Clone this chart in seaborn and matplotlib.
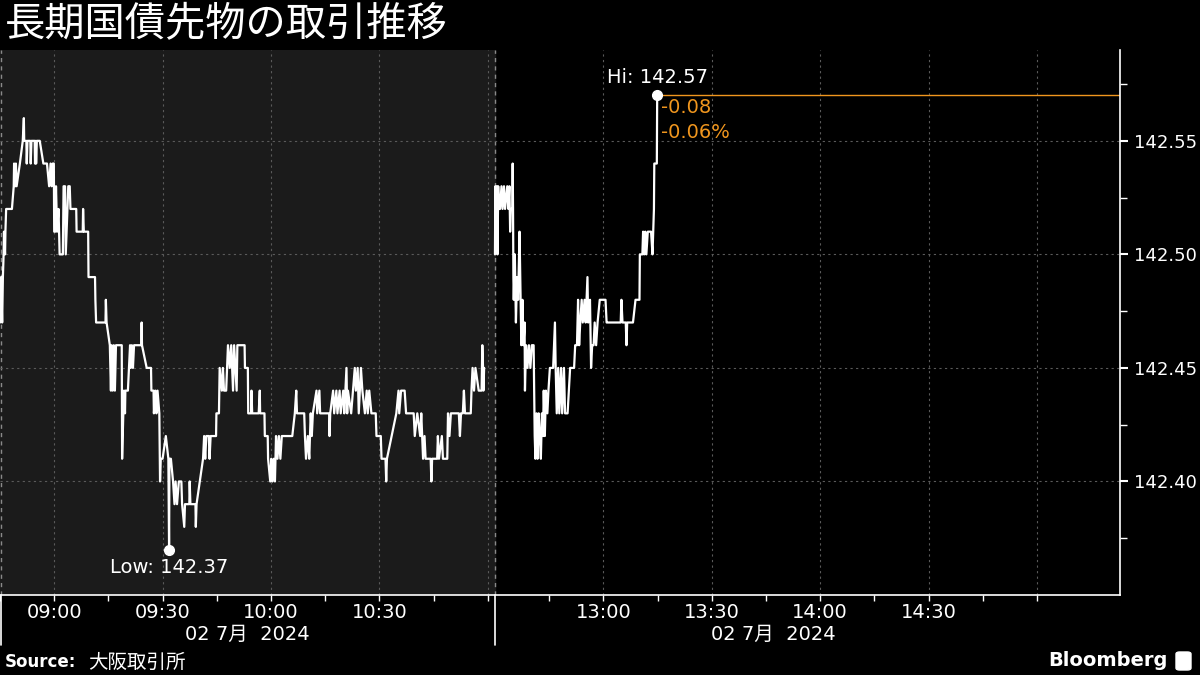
import numpy as np
import pandas as pd
import matplotlib
matplotlib.use("Agg")
import matplotlib.pyplot as plt
import matplotlib.transforms as mtransforms
from matplotlib.lines import Line2D
from matplotlib.patches import FancyBboxPatch
import seaborn as sns

# morning session: minutes after 08:45, price
am_minutes = [0.0, 0.3, 0.6, 0.8, 1.0, 1.1, 1.4, 1.5, 1.7, 3.3, 3.8, 3.9, 4.2, 4.4, 4.6, 5.5, 6.3, 6.6, 6.7, 7.3,
              7.4, 7.6, 8.4, 8.5, 8.7, 9.6, 9.7, 9.9, 10.0, 10.2, 11.0, 12.0, 13.0, 13.6, 14.0, 14.3, 14.6, 14.9, 15.0, 15.3,
              15.5, 15.8, 16.2, 16.5, 17.4, 17.6, 18.0, 18.2, 18.9, 19.3, 19.5, 21.1, 21.2, 22.9, 23.0, 23.2, 24.4, 24.5, 26.3, 26.4,
              26.6, 29.2, 29.3, 29.5, 30.4, 30.7, 30.9, 31.2, 31.5, 31.8, 32.1, 33.7, 33.8, 34.3, 34.6, 34.7, 35.4, 36.0, 36.2, 36.5,
              36.8, 37.1, 39.1, 39.2, 39.3, 40.6, 41.8, 41.9, 42.5, 42.6, 43.0, 43.3, 43.6, 44.1, 44.3, 44.5, 45.0, 45.9, 46.6, 46.8,
              46.9, 47.3, 47.9, 48.3, 48.6, 49.0, 49.5, 50.2, 50.4, 51.0, 51.2, 52.4, 52.5, 52.7, 54.1, 54.2, 54.4, 56.2, 56.5, 56.8,
              57.1, 57.8, 58.0, 58.3, 59.8, 59.9, 60.6, 60.8, 61.4, 61.7, 62.0, 62.6, 63.1, 63.6, 64.0, 64.5, 64.8, 65.5, 65.7, 67.7,
              67.8, 68.6, 68.7, 69.5, 69.6, 69.8, 71.6, 71.9, 72.0, 73.2, 73.3, 74.1, 74.2, 74.8, 75.1, 75.4, 75.8, 76.1, 76.4, 76.8,
              77.2, 77.6, 78.0, 80.9, 81.6, 82.0, 82.2, 84.2, 84.4, 84.7, 85.2, 85.6, 86.0, 86.3, 86.6, 87.6, 87.8, 88.4, 88.6, 91.1,
              91.2, 91.4, 92.2, 92.5, 93.1, 93.4, 94.0, 94.3, 95.0, 95.3, 95.9, 96.1, 96.3, 97.2, 98.2, 98.5, 99.0, 99.3, 99.9, 100.3,
              101.0, 101.5, 101.8, 102.2, 102.8, 104.0, 104.2, 105.4, 105.6, 106.7, 106.9, 107.1, 109.7, 110.3, 110.5, 111.0, 112.0, 112.4, 114.5, 114.8,
              115.5, 116.3, 116.6, 117.1, 117.5, 117.8, 119.2, 119.4, 119.6, 121.0, 121.2, 121.5, 122.3, 122.6, 123.8, 124.0, 124.4, 124.8, 127.0, 127.3,
              127.6, 128.1, 128.4, 128.7, 130.3, 130.5, 130.8, 131.2, 131.6, 132.5, 133.3, 133.5, 133.7, 133.8, 134.0]
am_prices = [142.47, 142.49, 142.47, 142.49, 142.50, 142.51, 142.50, 142.51, 142.52, 142.52, 142.53, 142.54, 142.53, 142.54, 142.53, 142.54, 142.55, 142.56, 142.55, 142.55,
             142.54, 142.55, 142.55, 142.54, 142.55, 142.55, 142.54, 142.55, 142.54, 142.55, 142.55, 142.54, 142.54, 142.53, 142.54, 142.53, 142.54, 142.54, 142.51, 142.51,
             142.53, 142.51, 142.52, 142.50, 142.50, 142.53, 142.53, 142.50, 142.53, 142.53, 142.52, 142.52, 142.51, 142.51, 142.52, 142.51, 142.51, 142.49, 142.49, 142.48,
             142.47, 142.47, 142.48, 142.47, 142.46, 142.44, 142.46, 142.44, 142.46, 142.44, 142.46, 142.46, 142.41, 142.44, 142.43, 142.44, 142.44, 142.46, 142.45, 142.46,
             142.45, 142.46, 142.46, 142.47, 142.46, 142.45, 142.45, 142.44, 142.44, 142.43, 142.44, 142.43, 142.44, 142.43, 142.40, 142.41, 142.41, 142.42, 142.41, 142.37,
             142.41, 142.41, 142.40, 142.39, 142.40, 142.39, 142.40, 142.40, 142.39, 142.38, 142.39, 142.39, 142.40, 142.39, 142.39, 142.38, 142.39, 142.41, 142.42, 142.41,
             142.42, 142.42, 142.41, 142.42, 142.42, 142.43, 142.43, 142.45, 142.44, 142.45, 142.44, 142.44, 142.46, 142.45, 142.46, 142.44, 142.46, 142.44, 142.46, 142.46,
             142.45, 142.45, 142.43, 142.43, 142.44, 142.43, 142.43, 142.44, 142.43, 142.43, 142.42, 142.42, 142.41, 142.40, 142.41, 142.40, 142.41, 142.40, 142.42, 142.41,
             142.42, 142.41, 142.42, 142.42, 142.43, 142.44, 142.43, 142.43, 142.42, 142.41, 142.42, 142.41, 142.43, 142.42, 142.43, 142.44, 142.43, 142.44, 142.43, 142.43,
             142.42, 142.43, 142.44, 142.43, 142.44, 142.43, 142.44, 142.43, 142.44, 142.43, 142.45, 142.43, 142.44, 142.43, 142.45, 142.44, 142.45, 142.43, 142.45, 142.44,
             142.43, 142.44, 142.43, 142.44, 142.43, 142.43, 142.42, 142.42, 142.41, 142.41, 142.40, 142.41, 142.43, 142.44, 142.43, 142.44, 142.44, 142.43, 142.43, 142.42,
             142.43, 142.42, 142.43, 142.41, 142.42, 142.41, 142.41, 142.40, 142.41, 142.41, 142.42, 142.41, 142.42, 142.41, 142.41, 142.43, 142.42, 142.43, 142.43, 142.42,
             142.43, 142.43, 142.44, 142.43, 142.43, 142.44, 142.45, 142.44, 142.45, 142.44, 142.44, 142.46, 142.45, 142.44, 142.45]

# afternoon session: minutes after 12:30, price
pm_minutes = [0.0, 0.1, 0.3, 0.5, 0.7, 0.9, 1.1, 1.4, 1.8, 2.1, 2.5, 2.8, 3.4, 3.7, 4.0, 4.2, 4.4, 4.8, 4.9, 5.0,
              5.1, 5.2, 5.5, 5.8, 6.1, 6.4, 6.8, 7.0, 7.3, 7.6, 7.9, 8.2, 8.3, 8.6, 9.0, 9.4, 9.8, 10.2, 10.7, 11.0,
              11.2, 11.5, 11.8, 12.1, 12.4, 12.7, 13.0, 13.3, 13.5, 13.8, 14.1, 14.5, 14.8, 15.2, 15.6, 16.1, 16.6, 16.8, 17.1, 17.5,
              17.8, 18.3, 18.6, 19.1, 19.4, 20.1, 20.8, 21.9, 22.2, 22.7, 23.0, 23.3, 23.6, 24.0, 24.3, 24.8, 25.1, 25.6, 25.8, 26.3,
              26.6, 26.9, 27.3, 27.6, 28.0, 28.4, 29.0, 30.6, 30.9, 31.3, 31.6, 34.8, 35.0, 35.3, 36.2, 36.4, 36.6, 38.2, 38.9, 40.0,
              40.1, 40.8, 41.0, 41.3, 41.6, 41.9, 42.3, 43.2, 43.6, 44.0, 44.1, 44.8, 44.9]
pm_prices = [142.50, 142.53, 142.51, 142.53, 142.50, 142.53, 142.52, 142.52, 142.53, 142.52, 142.53, 142.52, 142.53, 142.52, 142.53, 142.51, 142.52, 142.52, 142.54, 142.52,
             142.49, 142.48, 142.50, 142.47, 142.49, 142.48, 142.51, 142.49, 142.46, 142.48, 142.46, 142.47, 142.44, 142.46, 142.45, 142.46, 142.45, 142.46, 142.46, 142.42,
             142.41, 142.43, 142.41, 142.43, 142.42, 142.41, 142.43, 142.42, 142.44, 142.42, 142.44, 142.43, 142.44, 142.45, 142.45, 142.45, 142.47, 142.45, 142.43, 142.45,
             142.43, 142.45, 142.43, 142.45, 142.43, 142.43, 142.45, 142.45, 142.46, 142.46, 142.48, 142.46, 142.47, 142.48, 142.47, 142.48, 142.47, 142.49, 142.47, 142.48,
             142.45, 142.46, 142.46, 142.47, 142.46, 142.47, 142.48, 142.48, 142.47, 142.47, 142.47, 142.47, 142.48, 142.47, 142.47, 142.46, 142.47, 142.47, 142.48, 142.48,
             142.50, 142.50, 142.51, 142.50, 142.51, 142.50, 142.51, 142.51, 142.50, 142.52, 142.54, 142.54, 142.57]

AM_LEN = 137  # 08:45 -> 11:02
tick_labels_am = ["", "09:00", "", "09:30", "", "10:00", "", "10:30", "", ""]
tick_labels_pm = ["", "13:00", "", "13:30", "", "14:00", "", "14:30", "", ""]
y_ticks = [142.40, 142.45, 142.50, 142.55]
hi_price, low_price = 142.57, 142.37
net_change, pct_change = "-0.08", "-0.06%"

orange = "#f0961e"

df = pd.concat([
    pd.DataFrame({"pos": am_minutes, "price": am_prices, "session": "am"}),
    pd.DataFrame({"pos": np.array(pm_minutes) + AM_LEN, "price": pm_prices, "session": "pm"}),
], ignore_index=True)

sns.set_style("dark", {"axes.facecolor": "black", "figure.facecolor": "black"})
plt.rcParams['font.family'] = ['DejaVu Sans', 'Noto Sans CJK JP']

fig = plt.figure(figsize=(12, 6.75), dpi=100)
ax = fig.add_axes([0, 80 / 675, 1120 / 1200, 545 / 675])
ax.set_facecolor("black")

ax.axvspan(0, AM_LEN, color="#1b1b1b", zorder=0)
ax.axvline(AM_LEN, color="#8a8a8a", lw=1, ls=(0, (3, 3)), zorder=1)
ax.axvline(0.15, color="#8a8a8a", lw=1, ls=(0, (3, 3)), zorder=1)

grid_x = [15, 45, 75, 105, 135] + [AM_LEN + m for m in (30, 60, 90, 120, 150)]
for gx in grid_x:
    ax.axvline(gx, color="#5a5a5a", lw=0.8, ls=(0, (2, 3)), zorder=1)
for gy in y_ticks:
    ax.axhline(gy, color="#5a5a5a", lw=0.8, ls=(0, (2, 3)), zorder=1)

sns.lineplot(data=df, x="pos", y="price", units="session", estimator=None, sort=False,
             color="white", lw=1.6, ax=ax, zorder=3)

ax.set_xlim(0, 310)
ax.set_ylim(142.350, 142.590)

# hi / low markers
hi_x = pm_minutes[-1] + AM_LEN
low_x = am_minutes[am_prices.index(low_price)]
ax.plot([hi_x, 310], [hi_price, hi_price], color=orange, lw=1, zorder=2)
ax.plot([hi_x], [hi_price], "o", color="white", ms=7, zorder=4)
ax.plot([low_x], [low_price], "o", color="white", ms=7, zorder=4)
ax.annotate(f"Hi: {hi_price:.2f}", (hi_x, hi_price), xytext=(0, 6), textcoords="offset points",
            ha="center", va="bottom", color="white", fontsize=14)
ax.annotate(f"Low: {low_price:.2f}", (low_x, low_price), xytext=(0, -6), textcoords="offset points",
            ha="center", va="top", color="white", fontsize=14)
ax.annotate(net_change, (hi_x, hi_price), xytext=(3, -9), textcoords="offset points",
            ha="left", va="center", color=orange, fontsize=14)
ax.annotate(pct_change, (hi_x, hi_price), xytext=(3, -27), textcoords="offset points",
            ha="left", va="center", color=orange, fontsize=14)

# axes styling
for s in ["top", "left"]:
    ax.spines[s].set_visible(False)
for s in ["bottom", "right"]:
    ax.spines[s].set_visible(True)
    ax.spines[s].set_color("white")
    ax.spines[s].set_linewidth(1.2)

xt = [15 * i for i in range(10)] + [AM_LEN + 15 * i for i in range(1, 11)]
ax.set_xticks(xt)
ax.set_xticklabels(tick_labels_am + tick_labels_pm)
ax.tick_params(axis="x", colors="white", labelsize=14, length=4, width=1, direction="out", pad=2, bottom=True)

ax.yaxis.tick_right()
ax.set_yticks(y_ticks)
ax.set_yticklabels([f"{v:.2f}" for v in y_ticks])
ax.set_yticks([142.375, 142.425, 142.475, 142.525, 142.575], minor=True)
ax.tick_params(axis="y", which="major", colors="white", labelsize=13, length=6, width=1.5, pad=4, right=True)
ax.tick_params(axis="y", which="minor", colors="white", length=5, width=1, right=True)
ax.set_xlabel("")
ax.set_ylabel("")
ax.grid(False)

# date labels under each session
trans = mtransforms.blended_transform_factory(ax.transData, fig.transFigure)
ax.text(AM_LEN / 2, 1 - 634 / 675, "02 7月  2024", transform=trans, ha="center", va="center",
        color="white", fontsize=14)
ax.text(214, 1 - 634 / 675, "02 7月  2024", transform=trans, ha="center", va="center",
        color="white", fontsize=14)

# separators below the axis
for px in (1, 495):
    fig.add_artist(Line2D([px / 1200, px / 1200], [80 / 675, 30 / 675], color="white", lw=1.2,
                          transform=fig.transFigure))

# title and footer
fig.text(5 / 1200, 1 - 25 / 675, "長期国債先物の取引推移", color="white", fontsize=29,
         family=["Noto Sans CJK JP"], ha="left", va="center")
fig.text(5 / 1200, 1 - 662 / 675, "Source:", color="white", fontsize=12, fontweight="bold",
         ha="left", va="center")
fig.text(88 / 1200, 1 - 662 / 675, "大阪取引所", color="white", fontsize=14,
         family=["Noto Sans CJK JP"], ha="left", va="center")
fig.text(1168 / 1200, 1 - 661 / 675, "Bloomberg", color="white", fontsize=14, fontweight="bold",
         ha="right", va="center")
fig.add_artist(FancyBboxPatch((1176 / 1200, 1 - 670 / 675), 15 / 1200, 18 / 675,
                              boxstyle="round,pad=0,rounding_size=0.003", color="white",
                              transform=fig.transFigure))

fig.savefig("out.png", dpi=100, facecolor="black")
